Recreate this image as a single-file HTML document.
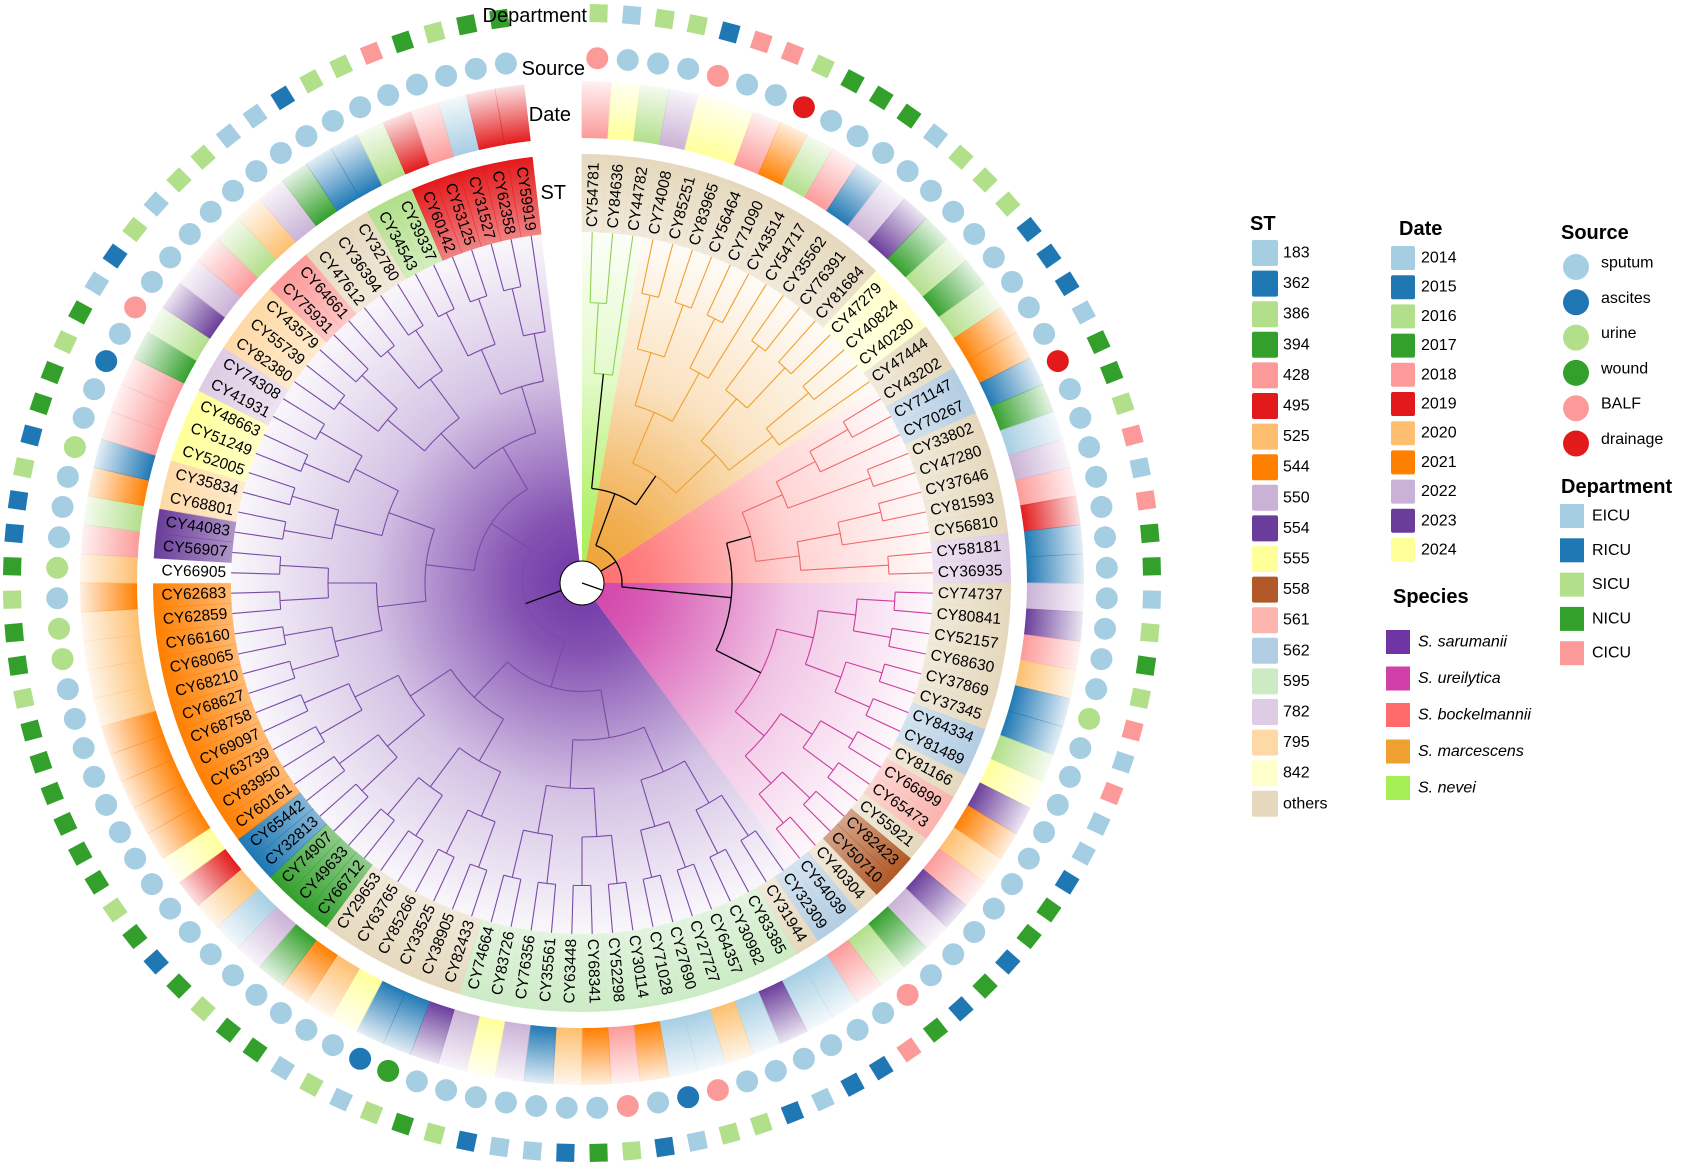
<!DOCTYPE html>
<html><head><meta charset="utf-8"><style>
html,body{margin:0;padding:0;background:#fff;}
svg{display:block;font-family:"Liberation Sans",Arial,sans-serif;}
</style></head><body>
<svg id="chart" width="1681" height="1165" viewBox="0 0 1681 1165" xmlns="http://www.w3.org/2000/svg">
<defs id="defs"></defs>
<g id="wedges"></g>
<g id="stband"></g>
<g id="tree"></g>
<g id="labels"></g>
<g id="datering"></g>
<g id="sourcering"></g>
<g id="deptring"></g>
<circle cx="582" cy="583" r="22" fill="#fff" stroke="#000" stroke-width="1"/>
<line x1="582" y1="583" x2="602" y2="590" stroke="#000" stroke-width="1.2"/>
<text x="587" y="22" font-size="20" text-anchor="end">Department</text>
<text x="585" y="75" font-size="20" text-anchor="end">Source</text>
<text x="571" y="121" font-size="20" text-anchor="end">Date</text>
<text x="566" y="199" font-size="20" text-anchor="end">ST</text>
<g id="legend"></g>
</svg>
<script>
const leaves=["CY54781","CY84636","CY44782","CY74008","CY85251","CY83965","CY56464","CY71090","CY43514","CY54717","CY35562","CY76391","CY81684","CY47279","CY40824","CY40230","CY47444","CY43202","CY71147","CY70267","CY33802","CY47280","CY37646","CY81593","CY56810","CY58181","CY36935","CY74737","CY80841","CY52157","CY68630","CY37869","CY37345","CY84334","CY81489","CY81166","CY66899","CY65473","CY55921","CY82423","CY50710","CY40304","CY54039","CY32309","CY31944","CY83385","CY30982","CY64357","CY27727","CY27690","CY71028","CY30114","CY52298","CY68341","CY63448","CY35561","CY76356","CY83726","CY74664","CY82433","CY38905","CY33525","CY85266","CY63765","CY29653","CY66712","CY49633","CY74907","CY32813","CY65442","CY60161","CY83950","CY63739","CY69097","CY68758","CY68627","CY68210","CY68065","CY66160","CY62859","CY62683","CY66905","CY56907","CY44083","CY68801","CY35834","CY52005","CY51249","CY48663","CY41931","CY74308","CY82380","CY55739","CY43579","CY75931","CY64661","CY47612","CY36394","CY32780","CY34543","CY39337","CY60142","CY53125","CY31527","CY62358","CY59919"];
const stValues=["others","others","others","others","others","others","others","others","others","others","others","others","others","842","842","842","others","others","562","562","others","others","others","others","others","782","782","others","others","others","others","others","others","562","562","others","561","561","others","558","558","others","562","562","others","595","595","595","595","595","595","595","595","595","595","595","595","595","595","others","others","others","others","others","others","394","394","394","362","362","544","544","544","544","544","544","544","544","544","544","544","none","554","554","795","795","555","555","555","782","782","795","795","795","428","428","others","others","others","386","386","495","495","495","495","495"];
const dateValues=[2018,2024,2016,2022,2024,2024,2018,2021,2016,2018,2015,2022,2023,2017,2016,2017,2016,2021,2021,2015,2017,2014,2022,2018,2019,2015,2015,2022,2023,2018,2020,2015,2015,2016,2024,2023,2021,2020,2018,2023,2022,2017,2016,2018,2014,2014,2023,2014,2020,2014,2014,2021,2018,2021,2020,2015,2022,2024,2022,2023,2015,2015,2024,2020,2021,2017,2022,2014,2020,2019,2024,2021,2021,2021,2021,2021,2020,2020,2020,2020,2021,2020,2018,2016,2021,2015,2018,2018,2018,2017,2016,2023,2022,2018,2016,2020,2022,2017,2015,2015,2016,2019,2018,2014,2019,2019];
const sourceValues=["BALF","sputum","sputum","sputum","BALF","sputum","sputum","drainage","sputum","sputum","sputum","sputum","sputum","sputum","sputum","sputum","sputum","sputum","sputum","drainage","sputum","sputum","sputum","sputum","sputum","sputum","sputum","sputum","sputum","sputum","sputum","urine","sputum","sputum","sputum","sputum","sputum","sputum","sputum","sputum","sputum","sputum","BALF","sputum","sputum","sputum","sputum","sputum","sputum","BALF","ascites","sputum","BALF","sputum","sputum","sputum","sputum","sputum","sputum","sputum","wound","ascites","sputum","sputum","sputum","sputum","sputum","sputum","sputum","sputum","sputum","sputum","sputum","sputum","sputum","sputum","sputum","sputum","urine","urine","sputum","urine","sputum","sputum","sputum","urine","sputum","sputum","ascites","sputum","BALF","sputum","sputum","sputum","sputum","sputum","sputum","sputum","sputum","sputum","sputum","sputum","sputum","sputum","sputum","sputum"];
const deptValues=["SICU","EICU","SICU","SICU","RICU","CICU","CICU","SICU","NICU","NICU","NICU","EICU","SICU","SICU","SICU","RICU","RICU","RICU","EICU","NICU","NICU","SICU","CICU","EICU","CICU","NICU","NICU","EICU","SICU","NICU","SICU","CICU","EICU","CICU","EICU","EICU","RICU","NICU","NICU","RICU","NICU","RICU","NICU","CICU","RICU","RICU","EICU","RICU","SICU","SICU","EICU","RICU","SICU","NICU","RICU","EICU","EICU","RICU","SICU","NICU","SICU","EICU","SICU","EICU","NICU","NICU","SICU","NICU","RICU","NICU","SICU","NICU","NICU","NICU","NICU","NICU","NICU","SICU","NICU","NICU","SICU","NICU","RICU","RICU","SICU","RICU","NICU","NICU","SICU","NICU","EICU","RICU","SICU","EICU","SICU","SICU","EICU","EICU","RICU","SICU","SICU","CICU","NICU","SICU","NICU","NICU"];
const speciesNames=["S. sarumanii","S. ureilytica","S. bockelmannii","S. marcescens","S. nevei"];
const speciesStart=[43,27,17,3,0];
const speciesEnd=[105,42,26,16,2];
const speciesRootR=[60,200,175,130,210];
const stLegend=["183","362","386","394","428","495","525","544","550","554","555","558","561","562","595","782","795","842","others"];
const dateLegend=[2014,2015,2016,2017,2018,2019,2020,2021,2022,2023,2024];
const sourceLegend=["sputum","ascites","urine","wound","BALF","drainage"];
const deptLegend=["EICU","RICU","SICU","NICU","CICU"];

const stColor={"183":"#a6cee3","362":"#1f78b4","386":"#b2df8a","394":"#33a02c","428":"#fb9a99","495":"#e31a1c","525":"#fdbf6f","544":"#ff7f00","550":"#cab2d6","554":"#6a3d9a","555":"#ffff99","558":"#b15928","561":"#fbb4ae","562":"#b3cde3","595":"#ccebc5","782":"#decbe4","795":"#fed9a6","842":"#ffffcc","others":"#e5d8bd","none":"#ffffff"};
const dateColor={2014:"#a6cee3",2015:"#1f78b4",2016:"#b2df8a",2017:"#33a02c",2018:"#fb9a99",2019:"#e31a1c",2020:"#fdbf6f",2021:"#ff7f00",2022:"#cab2d6",2023:"#6a3d9a",2024:"#ffff99"};
const sourceColor={sputum:"#a6cee3",ascites:"#1f78b4",urine:"#b2df8a",wound:"#33a02c",BALF:"#fb9a99",drainage:"#e31a1c"};
const deptColor={EICU:"#a6cee3",RICU:"#1f78b4",SICU:"#b2df8a",NICU:"#33a02c",CICU:"#fb9a99"};
const speciesColor=["#6f35a5","#d13fa8","#ff6a6a","#efa030","#a6ef55"];
const lineColor=["#7b4aa8","#c93c9d","#ee6a6a","#efa030","#8fd14f"];

const NS="http://www.w3.org/2000/svg";
const cx=582,cy=583,STEP=360/108,TIP=351;
const ang=i=>STEP/2+i*STEP;
const rad=d=>d*Math.PI/180;
const px=(r,a)=>cx+r*Math.sin(rad(a));
const py=(r,a)=>cy-r*Math.cos(rad(a));
function mk(tag,attrs,parent){const e=document.createElementNS(NS,tag);for(const k in attrs)e.setAttribute(k,attrs[k]);if(parent)parent.appendChild(e);return e;}
function sector(r1,r2,a1,a2){const l=(a2-a1)>180?1:0;
 if(r1<=0)return `M${cx},${cy}L${px(r2,a1)},${py(r2,a1)}A${r2},${r2} 0 ${l} 1 ${px(r2,a2)},${py(r2,a2)}Z`;
 return `M${px(r1,a1)},${py(r1,a1)}L${px(r2,a1)},${py(r2,a1)}A${r2},${r2} 0 ${l} 1 ${px(r2,a2)},${py(r2,a2)}L${px(r1,a2)},${py(r1,a2)}A${r1},${r1} 0 ${l} 0 ${px(r1,a1)},${py(r1,a1)}Z`;}
const defs=document.getElementById('defs');
let gid=0;
function grad(color,r,stops){const id='g'+(gid++);const g=mk('radialGradient',{id:id,gradientUnits:'userSpaceOnUse',cx:cx,cy:cy,r:r,fx:cx,fy:cy},defs);
 stops.forEach(s=>mk('stop',{offset:s[0],'stop-color':color,'stop-opacity':s[1]},g));return 'url(#'+id+')';}

// wedges
const W=document.getElementById('wedges');
speciesNames.forEach((n,k)=>{
 const f=grad(speciesColor[k],TIP,[[0,1],[0.2,0.85],[0.6,0.3],[1,0.04]]);
 const p=mk('path',{d:sector(0,TIP,ang(speciesStart[k])-STEP/2,ang(speciesEnd[k])+STEP/2),fill:f},W);
 
 
});
// ST band
const SB=document.getElementById('stband');
const stG={};
leaves.forEach((l,i)=>{const c=stColor[stValues[i]];
 if(!stG[c])stG[c]=grad(c,429,[[0,0],[0.82,0.55],[1,1]]);
 const p=mk('path',{d:sector(351,429,ang(i)-STEP/2-0.05,ang(i)+STEP/2+0.05),fill:stG[c]},SB);
 
 
});
// date ring
const DR=document.getElementById('datering');
const dG={};
leaves.forEach((l,i)=>{const c=dateColor[dateValues[i]];
 if(!dG[c])dG[c]=grad(c,505,[[0,1],[0.88,1],[1,0.08]]);
 const p=mk('path',{d:sector(445,502,ang(i)-STEP/2-0.05,ang(i)+STEP/2+0.05),fill:dG[c]},DR);
 
 
});
// source ring
const SR=document.getElementById('sourcering');
leaves.forEach((l,i)=>{const a=ang(i);
 const c=mk('circle',{cx:px(525,a),cy:py(525,a),r:11,fill:sourceColor[sourceValues[i]]},SR);
 
 
});
// dept ring
const DP=document.getElementById('deptring');
leaves.forEach((l,i)=>{const a=ang(i);const x=px(570,a),y=py(570,a);
 const r=mk('rect',{x:x-9,y:y-9,width:18,height:18,fill:deptColor[deptValues[i]],transform:`rotate(${a} ${x} ${y})`},DP);
 
 
});
// labels
const LB=document.getElementById('labels');
leaves.forEach((l,i)=>{const a=ang(i);const x=px(356,a),y=py(356,a);
 let rot,anchor;if(a<180){rot=a-90;anchor='start';}else{rot=a+90;anchor='end';}
 const t=mk('text',{x:x,y:y,'font-size':15.5,'text-anchor':anchor,'dominant-baseline':'central',transform:`rotate(${rot} ${x} ${y})`},LB);
 t.textContent=l;
 
 
});
// tree
const TR=document.getElementById('tree');
function height(lo,hi){if(lo===hi)return 0;const m=Math.floor((lo+hi)/2);return 1+Math.max(height(lo,m),height(m+1,hi));}
function arc(r,a1,a2,col,w){if(Math.abs(a2-a1)<0.01)return;const l=(a2-a1)>180?1:0;
 const p=mk('path',{d:`M${px(r,a1)},${py(r,a1)}A${r},${r} 0 ${l} 1 ${px(r,a2)},${py(r,a2)}`,fill:'none',stroke:col,'stroke-width':w},TR);
 
 }
function rline(r1,r2,a,col,w){const p=mk('line',{x1:px(r1,a),y1:py(r1,a),x2:px(r2,a),y2:py(r2,a),stroke:col,'stroke-width':w},TR);
 
 }
function build(lo,hi,stepR,col){
 if(lo===hi)return {a:ang(lo),r:TIP};
 const m=Math.floor((lo+hi)/2);const h=height(lo,hi);const r=TIP-h*stepR;
 const c1=build(lo,m,stepR,col),c2=build(m+1,hi,stepR,col);
 rline(r,c1.r,c1.a,col,1.1);rline(r,c2.r,c2.a,col,1.1);arc(r,c1.a,c2.a,col,1.1);
 return {a:(c1.a+c2.a)/2,r:r};}
const roots=speciesNames.map((n,k)=>{const H=height(speciesStart[k],speciesEnd[k]);
 return build(speciesStart[k],speciesEnd[k],(TIP-speciesRootR[k])/H,lineColor[k]);});
// backbone (black)
const X={a:(roots[3].a+roots[4].a)/2,r:95};
rline(X.r,roots[3].r,roots[3].a,'#000',1.3);rline(X.r,roots[4].r,roots[4].a,'#000',1.3);arc(X.r,roots[4].a,roots[3].a,'#000',1.3);
const Y={a:(roots[2].a+roots[1].a)/2,r:150};
rline(Y.r,roots[2].r,roots[2].a,'#000',1.3);rline(Y.r,roots[1].r,roots[1].a,'#000',1.3);arc(Y.r,roots[2].a,roots[1].a,'#000',1.3);
const Z={a:(X.a+Y.a)/2,r:40};
rline(Z.r,X.r,X.a,'#000',1.3);rline(Z.r,Y.r,Y.a,'#000',1.3);arc(Z.r,X.a,Y.a,'#000',1.3);
rline(22,roots[0].r,roots[0].a,'#000',1.3);
rline(22,Z.r,Z.a,'#000',1.3);

// legend
const LG=document.getElementById('legend');
function txt(x,y,s,size,bold,italic,name){const t=mk('text',{x:x,y:y,'font-size':size,'dominant-baseline':'central'},LG);
 if(bold)t.setAttribute('font-weight','bold');if(italic)t.setAttribute('font-style','italic');t.textContent=s;
 
 return t;}
txt(1250,224,'ST',20,true,false,'st-legend-title');
stLegend.forEach((s,k)=>{const y=253+k*30.6;
 const r=mk('rect',{x:1252,y:y-13,width:26,height:26,rx:2,fill:stColor[s]},LG);
 
 
 txt(1283,y,s,16,false,false,'st-legend-label-'+s);});
txt(1399,229,'Date',20,true,false,'date-legend-title');
dateLegend.forEach((s,k)=>{const y=258+k*29.2;
 const r=mk('rect',{x:1391,y:y-12,width:24,height:24,rx:2,fill:dateColor[s]},LG);
 
 
 txt(1421,y,String(s),16,false,false,'date-legend-label-'+s);});
txt(1393,597,'Species',20,true,false,'species-legend-title');
speciesNames.forEach((s,k)=>{const y=642+k*36.5;
 const r=mk('rect',{x:1386,y:y-12,width:24,height:24,fill:speciesColor[k]},LG);
 
 
 txt(1418,y,s,16,false,true,'species-legend-label-'+k);});
txt(1561,233,'Source',20,true,false,'source-legend-title');
sourceLegend.forEach((s,k)=>{const y=267+k*35.3;
 const c=mk('circle',{cx:1576,cy:y,r:13,fill:sourceColor[s]},LG);
 
 
 txt(1601,y-4,s,16,false,false,'source-legend-label-'+s);});
txt(1561,487,'Department',20,true,false,'department-legend-title');
deptLegend.forEach((s,k)=>{const y=516+k*34.3;
 const r=mk('rect',{x:1560,y:y-12,width:24,height:24,fill:deptColor[s]},LG);
 
 
 txt(1592,y,s,16,false,false,'department-legend-label-'+s);});
</script>
</body></html>
